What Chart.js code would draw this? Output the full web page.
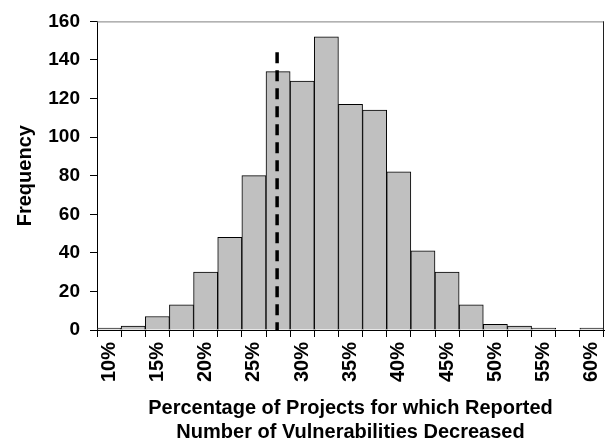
<!DOCTYPE html>
<html lang="en">
<head>
    <meta charset="UTF-8">
    <title>Frequency Histogram</title>
    <script src="https://cdn.jsdelivr.net/npm/chart.js"></script>
    <style>
        body {
            margin: 0;
            background-color: #ffffff;
        }
        #chartBox {
            width: 605px;
            height: 448px;
        }
    </style>
</head>
<body>
    <div id="chartBox">
        <canvas id="histChart"></canvas>
    </div>

    <script>
        // Bin labels (2.5% bins) and the frequency in each bin
        const binLabels = ['10%', '12.5%', '15%', '17.5%', '20%', '22.5%', '25%', '27.5%', '30%', '32.5%', '35%',
                           '37.5%', '40%', '42.5%', '45%', '47.5%', '50%', '52.5%', '55%', '57.5%', '60%'];
        const frequencies = [1, 2, 7, 13, 30, 48, 80, 134, 129, 152, 117, 114, 82, 41, 30, 13, 3, 2, 1, 0, 1];
        // Only every other bin gets a visible tick label
        const shownTicks = ['10%', '15%', '20%', '25%', '30%', '35%', '40%', '45%', '50%', '55%', '60%'];

        // Dashed marker line (percent position, height on frequency axis)
        const markerPct = [27.4, 27.4];
        const markerFreq = [144, 0];

        const fontFamily = '"Liberation Sans", Arial, sans-serif';

        // Plot area border (top and right), axes cover left and bottom
        const plotBorder = {
            id: 'plotBorder',
            beforeDatasetsDraw(chart) {
                const { ctx, chartArea } = chart;
                ctx.save();
                ctx.lineWidth = 1;
                ctx.strokeStyle = '#808080';
                ctx.beginPath();
                ctx.moveTo(chartArea.left, chartArea.top + 0.5);
                ctx.lineTo(chartArea.right, chartArea.top + 0.5);
                ctx.stroke();
                ctx.strokeStyle = '#202020';
                ctx.beginPath();
                ctx.moveTo(chartArea.right - 0.5, chartArea.top);
                ctx.lineTo(chartArea.right - 0.5, chartArea.bottom);
                ctx.stroke();
                ctx.restore();
            }
        };

        const ctx = document.getElementById('histChart').getContext('2d');
        const histChart = new Chart(ctx, {
            type: 'bar',
            data: {
                labels: binLabels,
                datasets: [{
                    type: 'line',
                    data: markerPct.map((p, i) => ({ x: p, y: markerFreq[i] })),
                    xAxisID: 'x2',
                    yAxisID: 'y',
                    borderColor: '#000000',
                    borderWidth: 3.5,
                    borderDash: [11, 7],
                    pointRadius: 0,
                    fill: false
                }, {
                    type: 'bar',
                    data: frequencies,
                    xAxisID: 'x',
                    yAxisID: 'y',
                    grouped: false,
                    backgroundColor: '#c0c0c0',
                    borderColor: '#000000',
                    borderWidth: 1,
                    barPercentage: 1,
                    categoryPercentage: 1
                }]
            },
            options: {
                responsive: true,
                maintainAspectRatio: false,
                animation: false,
                layout: {
                    padding: { top: 15, right: 1, left: 0, bottom: 0 }
                },
                plugins: {
                    legend: { display: false },
                    tooltip: { enabled: false }
                },
                scales: {
                    x: {
                        afterFit(scale) {
                            scale.height = 118;
                            scale.paddingLeft = 0;
                            scale.paddingRight = 0;
                        },
                        grid: {
                            drawOnChartArea: false,
                            drawTicks: true,
                            tickLength: 7,
                            color: '#000000',
                            offset: true
                        },
                        border: { display: true, color: '#000000', width: 1 },
                        ticks: {
                            autoSkip: false,
                            minRotation: 90,
                            maxRotation: 90,
                            padding: 5,
                            color: '#000000',
                            font: { family: fontFamily, size: 20, weight: 'bold' },
                            callback(value, index) {
                                const lab = binLabels[index];
                                return shownTicks.includes(lab) ? lab : '';
                            }
                        },
                        title: {
                            display: true,
                            text: ['Percentage of Projects for which Reported', 'Number of Vulnerabilities Decreased'],
                            color: '#000000',
                            font: { family: fontFamily, size: 20, weight: 'bold', lineHeight: 1.2 },
                            padding: { top: 0, bottom: 4 }
                        }
                    },
                    x2: {
                        type: 'linear',
                        display: false,
                        offset: false,
                        grid: { offset: false },
                        min: 8.75,
                        max: 61.25
                    },
                    y: {
                        min: 0,
                        max: 160,
                        afterFit(scale) { scale.width = 97; },
                        grid: {
                            drawOnChartArea: false,
                            drawTicks: true,
                            tickLength: 7,
                            color: '#000000'
                        },
                        border: { display: true, color: '#000000', width: 1 },
                        ticks: {
                            stepSize: 20,
                            padding: 10,
                            color: '#000000',
                            font: { family: fontFamily, size: 19, weight: 'bold' }
                        },
                        title: {
                            display: true,
                            text: 'Frequency',
                            color: '#000000',
                            font: { family: fontFamily, size: 20, weight: 'bold', lineHeight: 1.2 },
                            padding: { top: 13, bottom: 0 }
                        }
                    }
                }
            },
            plugins: [plotBorder]
        });
    </script>
</body>
</html>
